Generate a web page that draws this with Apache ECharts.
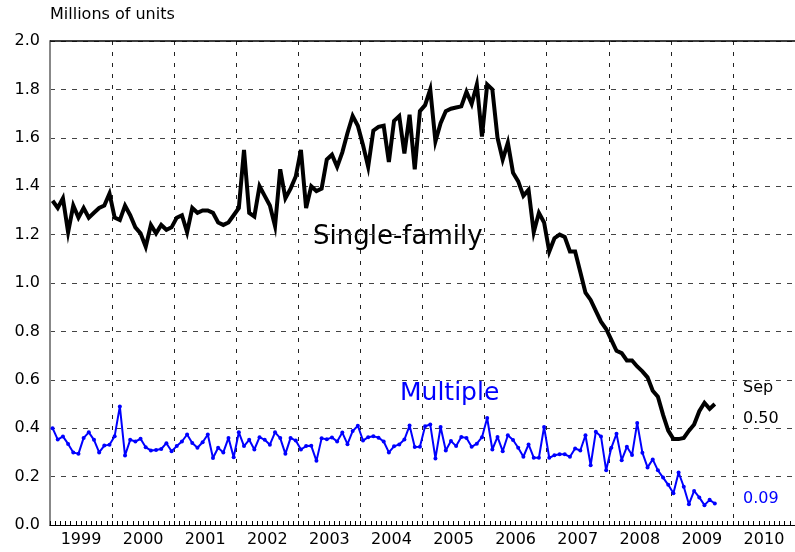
<!DOCTYPE html>
<html><head><meta charset="utf-8">
<script src="https://cdn.jsdelivr.net/npm/echarts@6/dist/echarts.min.js"></script>
<style>html,body{margin:0;padding:0;background:#fff}#c{width:795px;height:552px}</style>
</head><body><div id="c"></div>
<script>
// Year tick labels
const years = ['1999','2000','2001','2002','2003','2004','2005','2006','2007','2008','2009','2010'];
// Monthly categories Jan 1999 .. Dec 2010
const months = [];
years.forEach(y => { for (let m = 1; m <= 12; m++) months.push(y + '-' + (m < 10 ? '0' + m : m)); });

// Single-family starts, millions of units (Jan 1999 - Sep 2009)
const singleFamily = [
  1.34,1.31,1.35,1.21,1.32,1.27,1.31,1.27,1.29,1.31,1.32,1.37,
  1.27,1.26,1.32,1.28,1.23,1.205,1.15,1.24,1.205,1.24,1.22,1.23,
  1.27,1.28,1.21,1.31,1.29,1.30,1.30,1.29,1.25,1.24,1.25,1.28,
  1.31,1.55,1.29,1.275,1.40,1.36,1.32,1.235,1.47,1.35,1.39,1.44,
  1.55,1.31,1.40,1.38,1.39,1.51,1.53,1.48,1.54,1.62,1.69,1.65,
  1.57,1.48,1.63,1.645,1.65,1.50,1.67,1.69,1.535,1.695,1.47,1.71,
  1.735,1.80,1.585,1.66,1.71,1.72,1.725,1.73,1.79,1.74,1.82,1.605,
  1.82,1.80,1.60,1.51,1.58,1.455,1.42,1.36,1.385,1.21,1.29,1.25,
  1.13,1.185,1.20,1.19,1.13,1.13,1.045,0.96,0.93,0.885,0.84,0.81,
  0.765,0.72,0.71,0.68,0.68,0.655,0.635,0.61,0.555,0.53,0.455,0.39,
  0.355,0.355,0.36,0.39,0.415,0.47,0.505,0.48,0.50
];
// Multiple-unit starts, millions of units (Jan 1999 - Sep 2009)
const multiple = [
  0.40,0.353,0.366,0.335,0.30,0.294,0.36,0.383,0.352,0.30,0.328,0.332,
  0.367,0.49,0.287,0.352,0.345,0.356,0.321,0.308,0.31,0.314,0.338,0.305,
  0.326,0.345,0.374,0.339,0.319,0.342,0.374,0.277,0.319,0.30,0.36,0.28,
  0.383,0.326,0.352,0.312,0.363,0.352,0.332,0.383,0.359,0.294,0.36,0.349,
  0.312,0.326,0.327,0.265,0.358,0.354,0.362,0.345,0.382,0.334,0.388,0.41,
  0.349,0.363,0.367,0.361,0.345,0.30,0.325,0.333,0.353,0.411,0.322,0.323,
  0.408,0.415,0.275,0.405,0.308,0.347,0.326,0.364,0.36,0.323,0.336,0.363,
  0.442,0.312,0.364,0.305,0.371,0.351,0.319,0.282,0.333,0.278,0.278,0.405,
  0.278,0.288,0.292,0.292,0.282,0.316,0.308,0.371,0.247,0.385,0.366,0.226,
  0.319,0.377,0.268,0.323,0.289,0.422,0.299,0.238,0.271,0.226,0.196,0.166,
  0.131,0.217,0.158,0.086,0.141,0.114,0.082,0.104,0.089
];

const FONT = 'DejaVu Sans';
const chart = echarts.init(document.getElementById('c'), null, {renderer:'canvas'});
chart.setOption({
  animation: false,
  backgroundColor: '#fff',
  textStyle: {fontFamily: FONT},
  grid: {left: 50, right: -5, top: 41, bottom: 27},
  xAxis: [
    {
      type: 'category', data: months, boundaryGap: true,
      axisLine: {show: true, lineStyle: {color: '#000', width: 1}},
      axisTick: {show: true, inside: true, length: 4, interval: 0, lineStyle: {color: '#000'}},
      axisLabel: {show: false}, splitLine: {show: false}
    },
    {
      type: 'category', data: years, boundaryGap: true, position: 'bottom',
      axisLine: {show: false}, axisTick: {show: false},
      axisLabel: {show: true, interval: 0, fontSize: 16, color: '#000', margin: 7, fontFamily: FONT},
      splitLine: {show: true, interval: 0, lineStyle: {type: [4, 7], color: '#222', width: 1}}
    }
  ],
  yAxis: {
    type: 'value', min: 0, max: 2, interval: 0.2,
    axisLine: {show: true, lineStyle: {color: '#888', width: 2}},
    axisTick: {show: false},
    axisLabel: {formatter: v => v.toFixed(1), fontSize: 16, color: '#000', margin: 10, fontFamily: FONT},
    splitLine: {show: true, lineStyle: {type: [5, 6], color: '#444', width: 1}}
  },
  series: [
    {
      name: 'Single-family', type: 'line', xAxisIndex: 0, data: singleFamily,
      showSymbol: false, symbol: 'none',
      lineStyle: {color: '#000', width: 4, join: 'miter', miterLimit: 6},
      markLine: {
        silent: true, symbol: 'none', label: {show: false},
        lineStyle: {type: 'solid', color: '#000', width: 1.5},
        data: [{yAxis: 2}]
      },
      z: 3
    },
    {
      name: 'Multiple', type: 'line', xAxisIndex: 0, data: multiple,
      showSymbol: true, showAllSymbol: true, symbol: 'circle', symbolSize: 4,
      itemStyle: {color: '#0000ff'},
      lineStyle: {color: '#0000ff', width: 2},
      z: 4
    }
  ],
  graphic: [
    {type: 'text', x: 50, y: 15, style: {text: 'Millions of units', font: '16px "DejaVu Sans"', fill: '#000', align: 'left', verticalAlign: 'middle'}},
    {type: 'text', x: 313, y: 237, style: {text: 'Single-family', font: '26px "DejaVu Sans"', fill: '#000', align: 'left', verticalAlign: 'middle'}},
    {type: 'text', x: 400, y: 393, style: {text: 'Multiple', font: '25px "DejaVu Sans"', fill: '#0000ff', align: 'left', verticalAlign: 'middle'}},
    {type: 'text', x: 743, y: 388, style: {text: 'Sep', font: '16px "DejaVu Sans"', fill: '#000', align: 'left', verticalAlign: 'middle'}},
    {type: 'text', x: 743, y: 419, style: {text: '0.50', font: '16px "DejaVu Sans"', fill: '#000', align: 'left', verticalAlign: 'middle'}},
    {type: 'text', x: 743, y: 499, style: {text: '0.09', font: '16px "DejaVu Sans"', fill: '#0000ff', align: 'left', verticalAlign: 'middle'}}
  ]
});
</script></body></html>
